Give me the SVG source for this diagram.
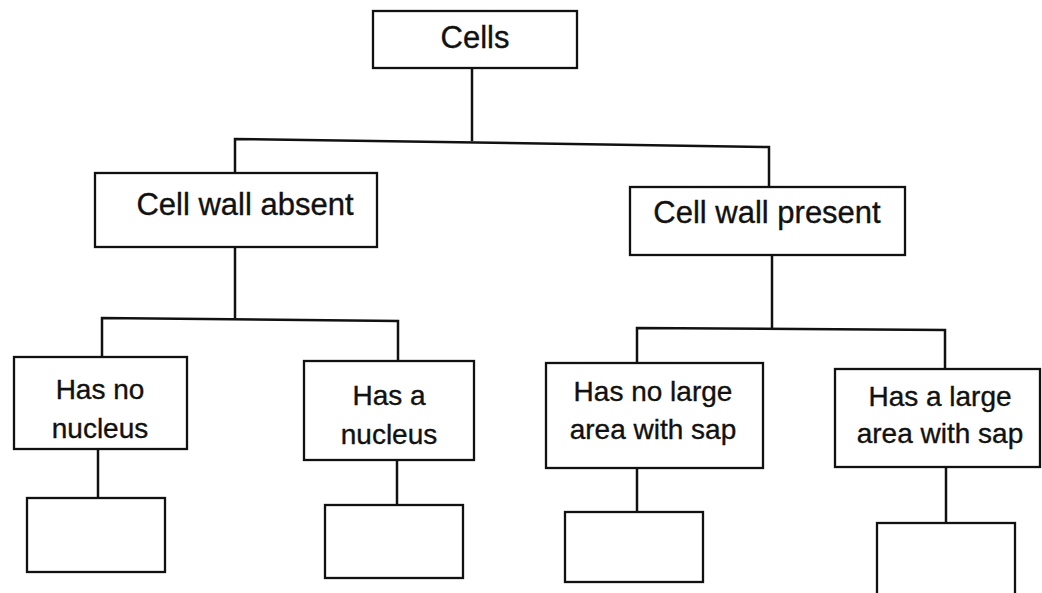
<svg xmlns="http://www.w3.org/2000/svg" width="1042" height="593" viewBox="0 0 1042 593">
  <style>
    .box { fill: #ffffff; stroke: #111111; stroke-width: 2.3; }
    .wire { fill: none; stroke: #111111; stroke-width: 2.5; stroke-linejoin: miter; }
    .lbl { font-family: "Liberation Sans", Arial, sans-serif; fill: #111111; stroke: #111111; stroke-width: 0.35; text-anchor: middle; }
    .big { font-size: 31px; }
    .mid { font-size: 28px; }
  </style>
  <rect width="1042" height="593" fill="#ffffff"/>

  <!-- tree connectors -->
  <g id="connectors">
    <path class="wire" d="M472,68 V141"/>
    <path class="wire" d="M235,173 V139 L769,147 V187"/>
    <path class="wire" d="M235,247 V318"/>
    <path class="wire" d="M102,357 V318 L398,321 V361"/>
    <path class="wire" d="M772,255 V328"/>
    <path class="wire" d="M637,363 V328 L945,330 V369"/>
    <path class="wire" d="M98,449 V498"/>
    <path class="wire" d="M397,460 V505"/>
    <path class="wire" d="M637,468 V512"/>
    <path class="wire" d="M946,467 V523"/>
  </g>

  <g id="cells">
    <rect class="box" x="373" y="11" width="204" height="57"/>
    <text class="lbl big" x="475" y="48">Cells</text>
  </g>

  <g id="wall-absent">
    <rect class="box" x="95" y="173" width="282" height="74"/>
    <text class="lbl big" x="245" y="215">Cell wall absent</text>
  </g>

  <g id="wall-present">
    <rect class="box" x="630" y="187" width="275" height="68"/>
    <text class="lbl big" x="767" y="223">Cell wall present</text>
  </g>

  <g id="no-nucleus">
    <rect class="box" x="14" y="357" width="173" height="92"/>
    <text class="lbl mid" x="100" y="399">Has no</text>
    <text class="lbl mid" x="100" y="438">nucleus</text>
  </g>

  <g id="nucleus">
    <rect class="box" x="304" y="361" width="170" height="99"/>
    <text class="lbl mid" x="389" y="405">Has a</text>
    <text class="lbl mid" x="389" y="444">nucleus</text>
  </g>

  <g id="no-sap">
    <rect class="box" x="546" y="363" width="217" height="105"/>
    <text class="lbl mid" x="653" y="401">Has no large</text>
    <text class="lbl mid" x="653" y="439">area with sap</text>
  </g>

  <g id="sap">
    <rect class="box" x="835" y="369" width="205" height="98"/>
    <text class="lbl mid" x="940" y="406">Has a large</text>
    <text class="lbl mid" x="940" y="443">area with sap</text>
  </g>

  <!-- empty answer boxes -->
  <g id="blank-1">
    <rect class="box" x="27" y="498" width="138" height="74"/>
  </g>
  <g id="blank-2">
    <rect class="box" x="325" y="505" width="138" height="73"/>
  </g>
  <g id="blank-3">
    <rect class="box" x="565" y="512" width="138" height="70"/>
  </g>
  <g id="blank-4">
    <rect class="box" x="877" y="523" width="138" height="80"/>
  </g>
</svg>
